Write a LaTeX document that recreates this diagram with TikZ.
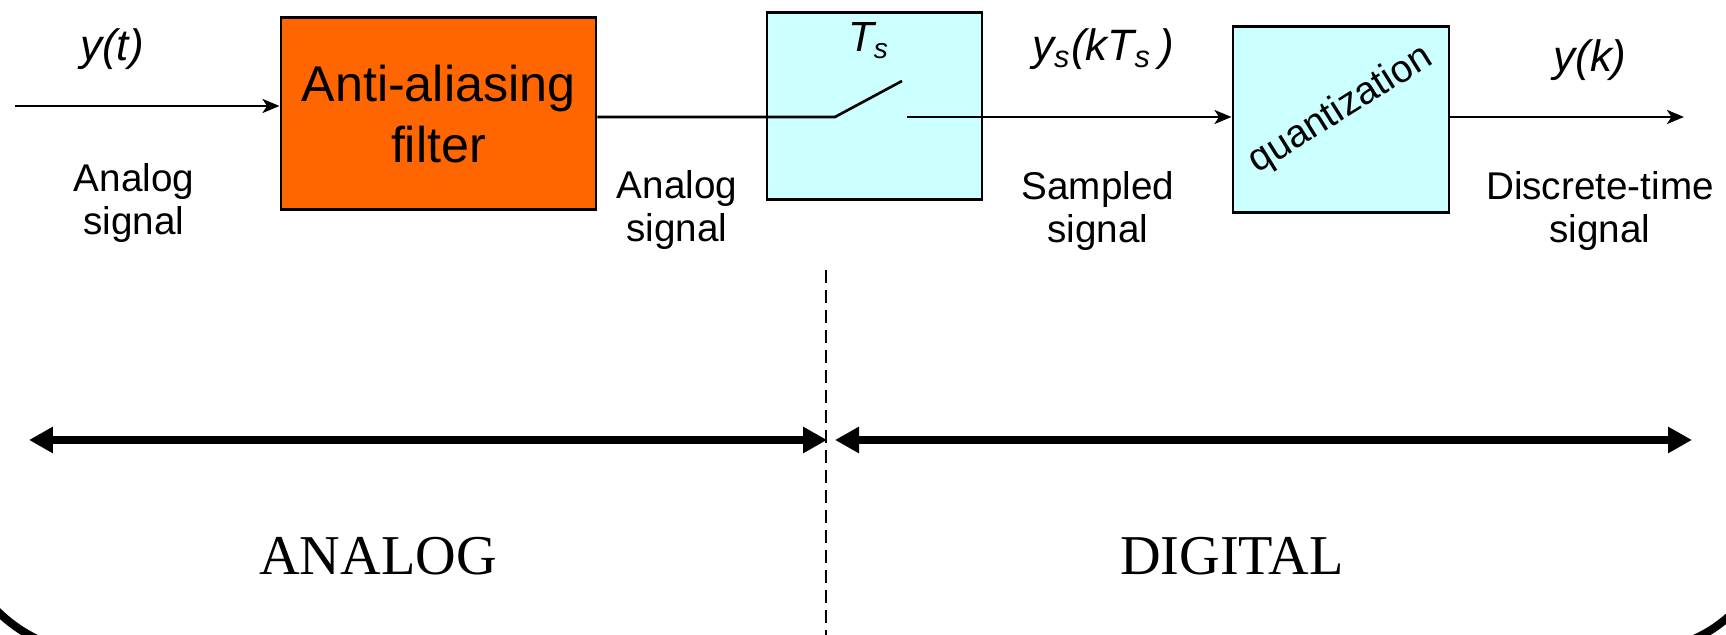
\documentclass[tikz,border=0pt]{standalone}
\usepackage{fontspec}
\setmainfont{Liberation Serif}
\setsansfont{Liberation Sans}
\usetikzlibrary{arrows.meta,positioning}
\definecolor{filterorange}{RGB}{255,102,0}
\definecolor{samplecyan}{RGB}{204,255,255}

\begin{document}
\begin{tikzpicture}[
        x=0.1mm, y=0.1mm,
        font=\sffamily,
        block/.style={rectangle, draw, line width=0.85pt, fill=#1, inner sep=0pt, align=center},
        sig/.style={line width=0.75pt},
        arrow/.style={sig, -{Stealth[length=1.7mm, width=1.4mm, inset=0.45mm]}},
        lbl/.style={font=\sffamily\fontsize{11}{12.3}\selectfont, align=center, anchor=base, inner sep=0pt},
        var/.style={font=\sffamily\itshape\fontsize{12.5}{14}\selectfont, anchor=base, inner sep=0pt},
        spanarrow/.style={line width=2.3pt, {Triangle[length=2.4mm, width=2.5mm]}-{Triangle[length=2.4mm, width=2.5mm]}},
        region/.style={font=\rmfamily\fontsize{16}{18}\selectfont, anchor=base, inner sep=0pt}
    ]
    \useasboundingbox (0,0) rectangle (1726,635);

    % blocks
    \node[block=filterorange, minimum width=31.5mm, minimum height=19.2mm,
        font=\sffamily\fontsize{14.3}{17.4}\selectfont] (filter) at (438.5,521) {Anti-aliasing\\filter};
    \node[block=samplecyan, minimum width=21.5mm, minimum height=18.7mm] (switch) at (874.5,528.5) {};
    \node[block=samplecyan, minimum width=21.6mm, minimum height=18.6mm] (quant) at (1341,515) {};
    \node[font=\sffamily\fontsize{11}{13}\selectfont, rotate=32, inner sep=0pt] (qtext) at (1341,525) {quantization};

    % switch
    \coordinate (pivot) at (835,518);
    \coordinate (blade) at (902,554);
    \coordinate (contact) at (907,518);
    \node[var, font=\sffamily\itshape\fontsize{12}{14}\selectfont] (ts) at (869,583) {T\textsubscript{s}};

    % signal path
    \coordinate (yin) at (15,529);
    \coordinate (yout) at (1684,518);
    \draw[arrow] (yin) -- (yin -| filter.west);
    \draw[sig] (filter.east |- pivot) -- (pivot) -- (blade);
    \draw[arrow] (contact) -- (quant.west |- contact);
    \draw[arrow] (quant.east |- contact) -- (yout);

    % signal names
    \node[var] (yt) at (112,574) {y(t)};
    \node[var] (ys) at (1103,574) {y\textsubscript{s}(kT\textsubscript{s}\,)};
    \node[var] (yk) at (1590,563) {y(k)};
    \node[lbl] (l1) at (134,400) {Analog\\signal};
    \node[lbl] (l2) at (677,393) {Analog\\signal};
    \node[lbl] (l3) at (1098,392) {Sampled\\signal};
    \node[lbl] (l4) at (1600,392) {Discrete-time\\signal};

    % analog / digital split
    \coordinate (divtop) at (826,365);
    \coordinate (divbot) at (826,0);
    \draw[line width=0.85pt, dash pattern=on 1.3mm off 0.7mm] (divtop) -- (divbot);
    \coordinate (aleft) at (29,195);
    \coordinate (amid) at (827,195);
    \coordinate (dmid) at (835,195);
    \coordinate (dright) at (1692,195);
    \draw[spanarrow] (aleft) -- (amid);
    \draw[spanarrow] (dmid) -- (dright);
    \node[region] (analog) at (378,60) {ANALOG};
    \node[region] (digital) at (1232,60) {DIGITAL};

    % frame corners
    \draw[line width=2.3pt] (-8,29) to[bend right=10] (45,-8);
    \draw[line width=2.3pt] (1685,-8) to[bend right=10] (1735,24);
\end{tikzpicture}
\end{document}
